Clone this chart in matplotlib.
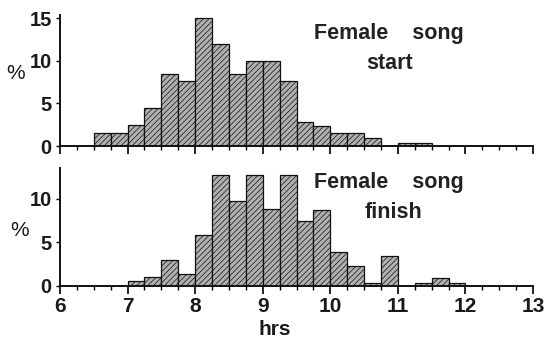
import matplotlib.pyplot as plt
from matplotlib.ticker import MultipleLocator

plt.rcParams['font.family'] = ['Liberation Sans', 'DejaVu Sans']
plt.rcParams['hatch.linewidth'] = 0.5

# bin start times (hours), bin width 0.25 h
start_bins = [6.5, 6.75, 7.0, 7.25, 7.5, 7.75, 8.0, 8.25, 8.5, 8.75,
              9.0, 9.25, 9.5, 9.75, 10.0, 10.25, 10.5, 10.75, 11.0, 11.25]
start_pct = [1.5, 1.5, 2.5, 4.5, 8.4, 7.6, 15.0, 12.0, 8.4, 10.0,
             10.0, 7.6, 2.8, 2.3, 1.5, 1.5, 0.9, 0.0, 0.4, 0.4]

finish_bins = [7.0, 7.25, 7.5, 7.75, 8.0, 8.25, 8.5, 8.75, 9.0, 9.25,
               9.5, 9.75, 10.0, 10.25, 10.5, 10.75, 11.0, 11.25, 11.5, 11.75]
finish_pct = [0.5, 1.0, 2.9, 1.3, 5.8, 12.7, 9.7, 12.7, 8.8, 12.7,
              7.4, 8.7, 3.9, 2.3, 0.35, 3.4, 0.0, 0.35, 0.85, 0.35]

width = 0.25
xticks = [6, 7, 8, 9, 10, 11, 12, 13]

fig = plt.figure(figsize=(5.45, 3.4), dpi=100)
ax1 = fig.add_axes([60/545, 194/340, 473/545, 131/340])
ax2 = fig.add_axes([60/545, 54.3/340, 473/545, 117.7/340])

def panel(ax, bins, pct, ymax, yticks, line2, y1, y2, x2):
    ax.bar(bins, pct, width=width, align='edge', facecolor='#b0b0b0',
           edgecolor='#111111', linewidth=0.9, hatch='//////')
    ax.set_xlim(6, 13)
    ax.set_ylim(0, ymax)
    ax.set_yticks(yticks)
    ax.set_xticks(xticks)
    ax.xaxis.set_minor_locator(MultipleLocator(0.25))
    for s in ['top', 'right']:
        ax.spines[s].set_visible(False)
    for s in ['left', 'bottom']:
        ax.spines[s].set_linewidth(1.4)
        ax.spines[s].set_color('#111111')
    ax.tick_params(axis='x', which='major', length=6, width=1.2, direction='out')
    ax.tick_params(axis='x', which='minor', length=3, width=1.0, direction='out')
    ax.tick_params(axis='y', length=3, width=1.0, pad=3)
    for lab in ax.get_yticklabels():
        lab.set_fontsize(14.5)
        lab.set_fontweight('bold')
        lab.set_color('#1a1a1a')
    ax.set_ylabel('%', rotation=0, fontsize=15, color='#1a1a1a', va='center')
    ax.text(10.87, y1, 'Female    song', ha='center', va='center', fontsize=15.5,
            fontweight='bold', color='#222222')
    ax.text(x2, y2, line2, ha='center', va='center', fontsize=15.5,
            fontweight='bold', color='#222222')

panel(ax1, start_bins, start_pct, 15.36, [0, 5, 10, 15], 'start',
      (146-33)/8.53, (146-63)/8.53, 10.88)
panel(ax2, finish_bins, finish_pct, 13.53, [0, 5, 10], 'finish',
      (285.7-182)/8.7, (285.7-212)/8.7, 10.93)

ax1.tick_params(axis='x', labelbottom=False)
ax1.yaxis.set_label_coords(-0.093, 0.55)
ax2.yaxis.set_label_coords(-0.085, 0.47)
for lab in ax2.get_xticklabels():
    lab.set_fontsize(15)
    lab.set_fontweight('bold')
    lab.set_color('#1a1a1a')
ax2.tick_params(axis='x', which='major', pad=2)
ax2.set_xlabel('hrs', fontsize=15, fontweight='bold', color='#1a1a1a')
ax2.xaxis.label.set_va('baseline')
ax2.xaxis.set_label_coords(0.455, -0.42)

fig.savefig('out.png', dpi=100)
